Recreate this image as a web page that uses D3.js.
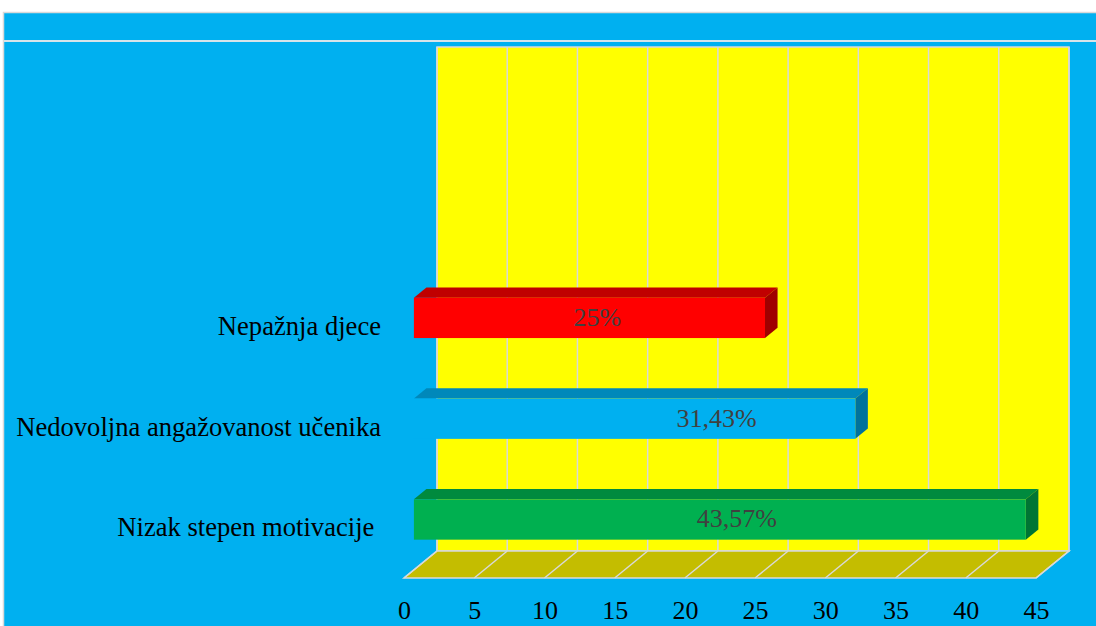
<!DOCTYPE html>
<html>
<head>
<meta charset="utf-8">
<script src="https://cdn.jsdelivr.net/npm/d3@7"></script>
<style>
  body { margin: 0; background: #ffffff; }
  text { font-family: "Liberation Serif", "Times New Roman", serif; }
</style>
</head>
<body>
<svg id="chart" width="1096" height="626"></svg>
<script>
// categories listed bottom -> top, as in the source sheet
const categories = ['Nizak stepen motivacije ', 'Nedovoljna angažovanost učenika', 'Nepažnja djece'];
const values = [43.57, 31.43, 25];
const barColors = ['#00B050', '#00B0F0', '#FF0000'];
const topColors = ['#008A3E', '#0088BA', '#C00000'];
const sideColors = ['#007534', '#00729C', '#A00000'];
const ticks = [0, 5, 10, 15, 20, 25, 30, 35, 40, 45];
const slotCount = 5; // the source table has two blank category rows on top

const width = 1096;
const height = 626;
const depthX = 33;
const depthY = 27;
const frontTop = 74;
const frontBottom = 578;
// label nudges (px) so the value labels sit where the original has them
const labelNudge = [17, 82, 8];

const svg = d3.select('#chart');

const x = d3.scaleLinear()
  .domain([0, 45])
  .range([404, 1036]);

const y = d3.scaleBand()
  .domain(d3.range(slotCount))
  .range([frontBottom, frontTop]);

// oblique projection: depth 0 = front plane, 1 = back wall
const px = (v, d) => x(v) + d * depthX;
const py = (yy, d) => yy - d * depthY;

// background
svg.append('rect')
  .attr('x', 3.5)
  .attr('y', 12.5)
  .attr('width', width)
  .attr('height', height)
  .attr('fill', '#00B0F0')
  .attr('stroke', '#D9D9D9')
  .attr('stroke-width', 1.5);

svg.append('line')
  .attr('x1', 4)
  .attr('x2', width)
  .attr('y1', 41)
  .attr('y2', 41)
  .attr('stroke', '#D6E4EA')
  .attr('stroke-width', 2);

// back wall
svg.append('rect')
  .attr('x', px(0, 1))
  .attr('y', py(frontTop, 1))
  .attr('width', px(45, 1) - px(0, 1))
  .attr('height', frontBottom - frontTop)
  .attr('fill', '#FFFF00')
  .attr('stroke', '#D9D9D9')
  .attr('stroke-width', 1.5);

svg.append('g')
  .selectAll('line')
  .data(ticks)
  .enter()
  .append('line')
  .attr('x1', (d) => px(d, 1))
  .attr('x2', (d) => px(d, 1))
  .attr('y1', py(frontTop, 1))
  .attr('y2', py(frontBottom, 1))
  .attr('stroke', '#D9D9D9')
  .attr('stroke-width', 1.5);

// floor
const floorPts = [
  [px(0, 1), py(frontBottom, 1)],
  [px(45, 1), py(frontBottom, 1)],
  [px(45, 0), frontBottom],
  [px(0, 0), frontBottom]
];
svg.append('polygon')
  .attr('points', floorPts.map((p) => p.join(',')).join(' '))
  .attr('fill', '#C4BD00')
  .attr('stroke', '#D9D9D9')
  .attr('stroke-width', 1.5);

svg.append('g')
  .selectAll('line')
  .data(ticks)
  .enter()
  .append('line')
  .attr('x1', (d) => px(d, 1))
  .attr('y1', py(frontBottom, 1))
  .attr('x2', (d) => px(d, 0))
  .attr('y2', frontBottom)
  .attr('stroke', '#D9D9D9')
  .attr('stroke-width', 1.5);

// bars
const d0 = 0.3;
const d1 = 0.68;
const thick = y.bandwidth() * 0.4;
const barData = categories.map((c, i) => ({ name: c, value: values[i], i }));
const faceTop = (d) => y(d.i) + y.bandwidth() / 2 - thick / 2;

const bars = svg.append('g')
  .selectAll('g')
  .data(barData)
  .enter()
  .append('g');

bars.append('polygon')
  .attr('points', (d) => {
    const t = faceTop(d);
    return [
      [px(0, d0), py(t, d0)],
      [px(0, d1), py(t, d1)],
      [px(d.value, d1), py(t, d1)],
      [px(d.value, d0), py(t, d0)]
    ].map((p) => p.join(',')).join(' ');
  })
  .attr('fill', (d) => topColors[d.i]);

bars.append('polygon')
  .attr('points', (d) => {
    const t = faceTop(d);
    return [
      [px(d.value, d0), py(t, d0)],
      [px(d.value, d1), py(t, d1)],
      [px(d.value, d1), py(t + thick, d1)],
      [px(d.value, d0), py(t + thick, d0)]
    ].map((p) => p.join(',')).join(' ');
  })
  .attr('fill', (d) => sideColors[d.i]);

bars.append('rect')
  .attr('x', px(0, d0))
  .attr('y', (d) => py(faceTop(d), d0))
  .attr('width', (d) => px(d.value, d0) - px(0, d0))
  .attr('height', thick)
  .attr('fill', (d) => barColors[d.i]);

const fmt = d3.formatLocale({ decimal: ',', thousands: '.', grouping: [3], currency: ['', ''] }).format('.4~');

bars.append('text')
  .text((d) => fmt(d.value) + '%')
  .attr('x', (d) => (px(0, d0) + px(d.value, d0)) / 2 + labelNudge[d.i])
  .attr('y', (d) => py(faceTop(d) + thick / 2, d0))
  .attr('dy', '0.3em')
  .attr('text-anchor', 'middle')
  .attr('font-size', 26)
  .attr('fill', '#404040');

// category labels
svg.append('g')
  .selectAll('text')
  .data(barData)
  .enter()
  .append('text')
  .text((d) => d.name)
  .attr('x', 381)
  .attr('y', (d) => y(d.i) + y.bandwidth() / 2)
  .attr('dy', '0.33em')
  .attr('text-anchor', 'end')
  .attr('font-size', 26.6)
  .attr('fill', '#000000')
  .style('white-space', 'pre');

// value axis along the front edge of the floor
const bottomAxis = d3.axisBottom(x)
  .tickValues(ticks)
  .tickSize(0)
  .tickPadding(23);

const axisG = svg.append('g')
  .attr('transform', `translate(0, ${frontBottom})`)
  .call(bottomAxis);

axisG.select('.domain').remove();
axisG.selectAll('text')
  .attr('font-family', '"Liberation Serif", "Times New Roman", serif')
  .attr('font-size', 26)
  .attr('fill', '#000000');
</script>
</body>
</html>
